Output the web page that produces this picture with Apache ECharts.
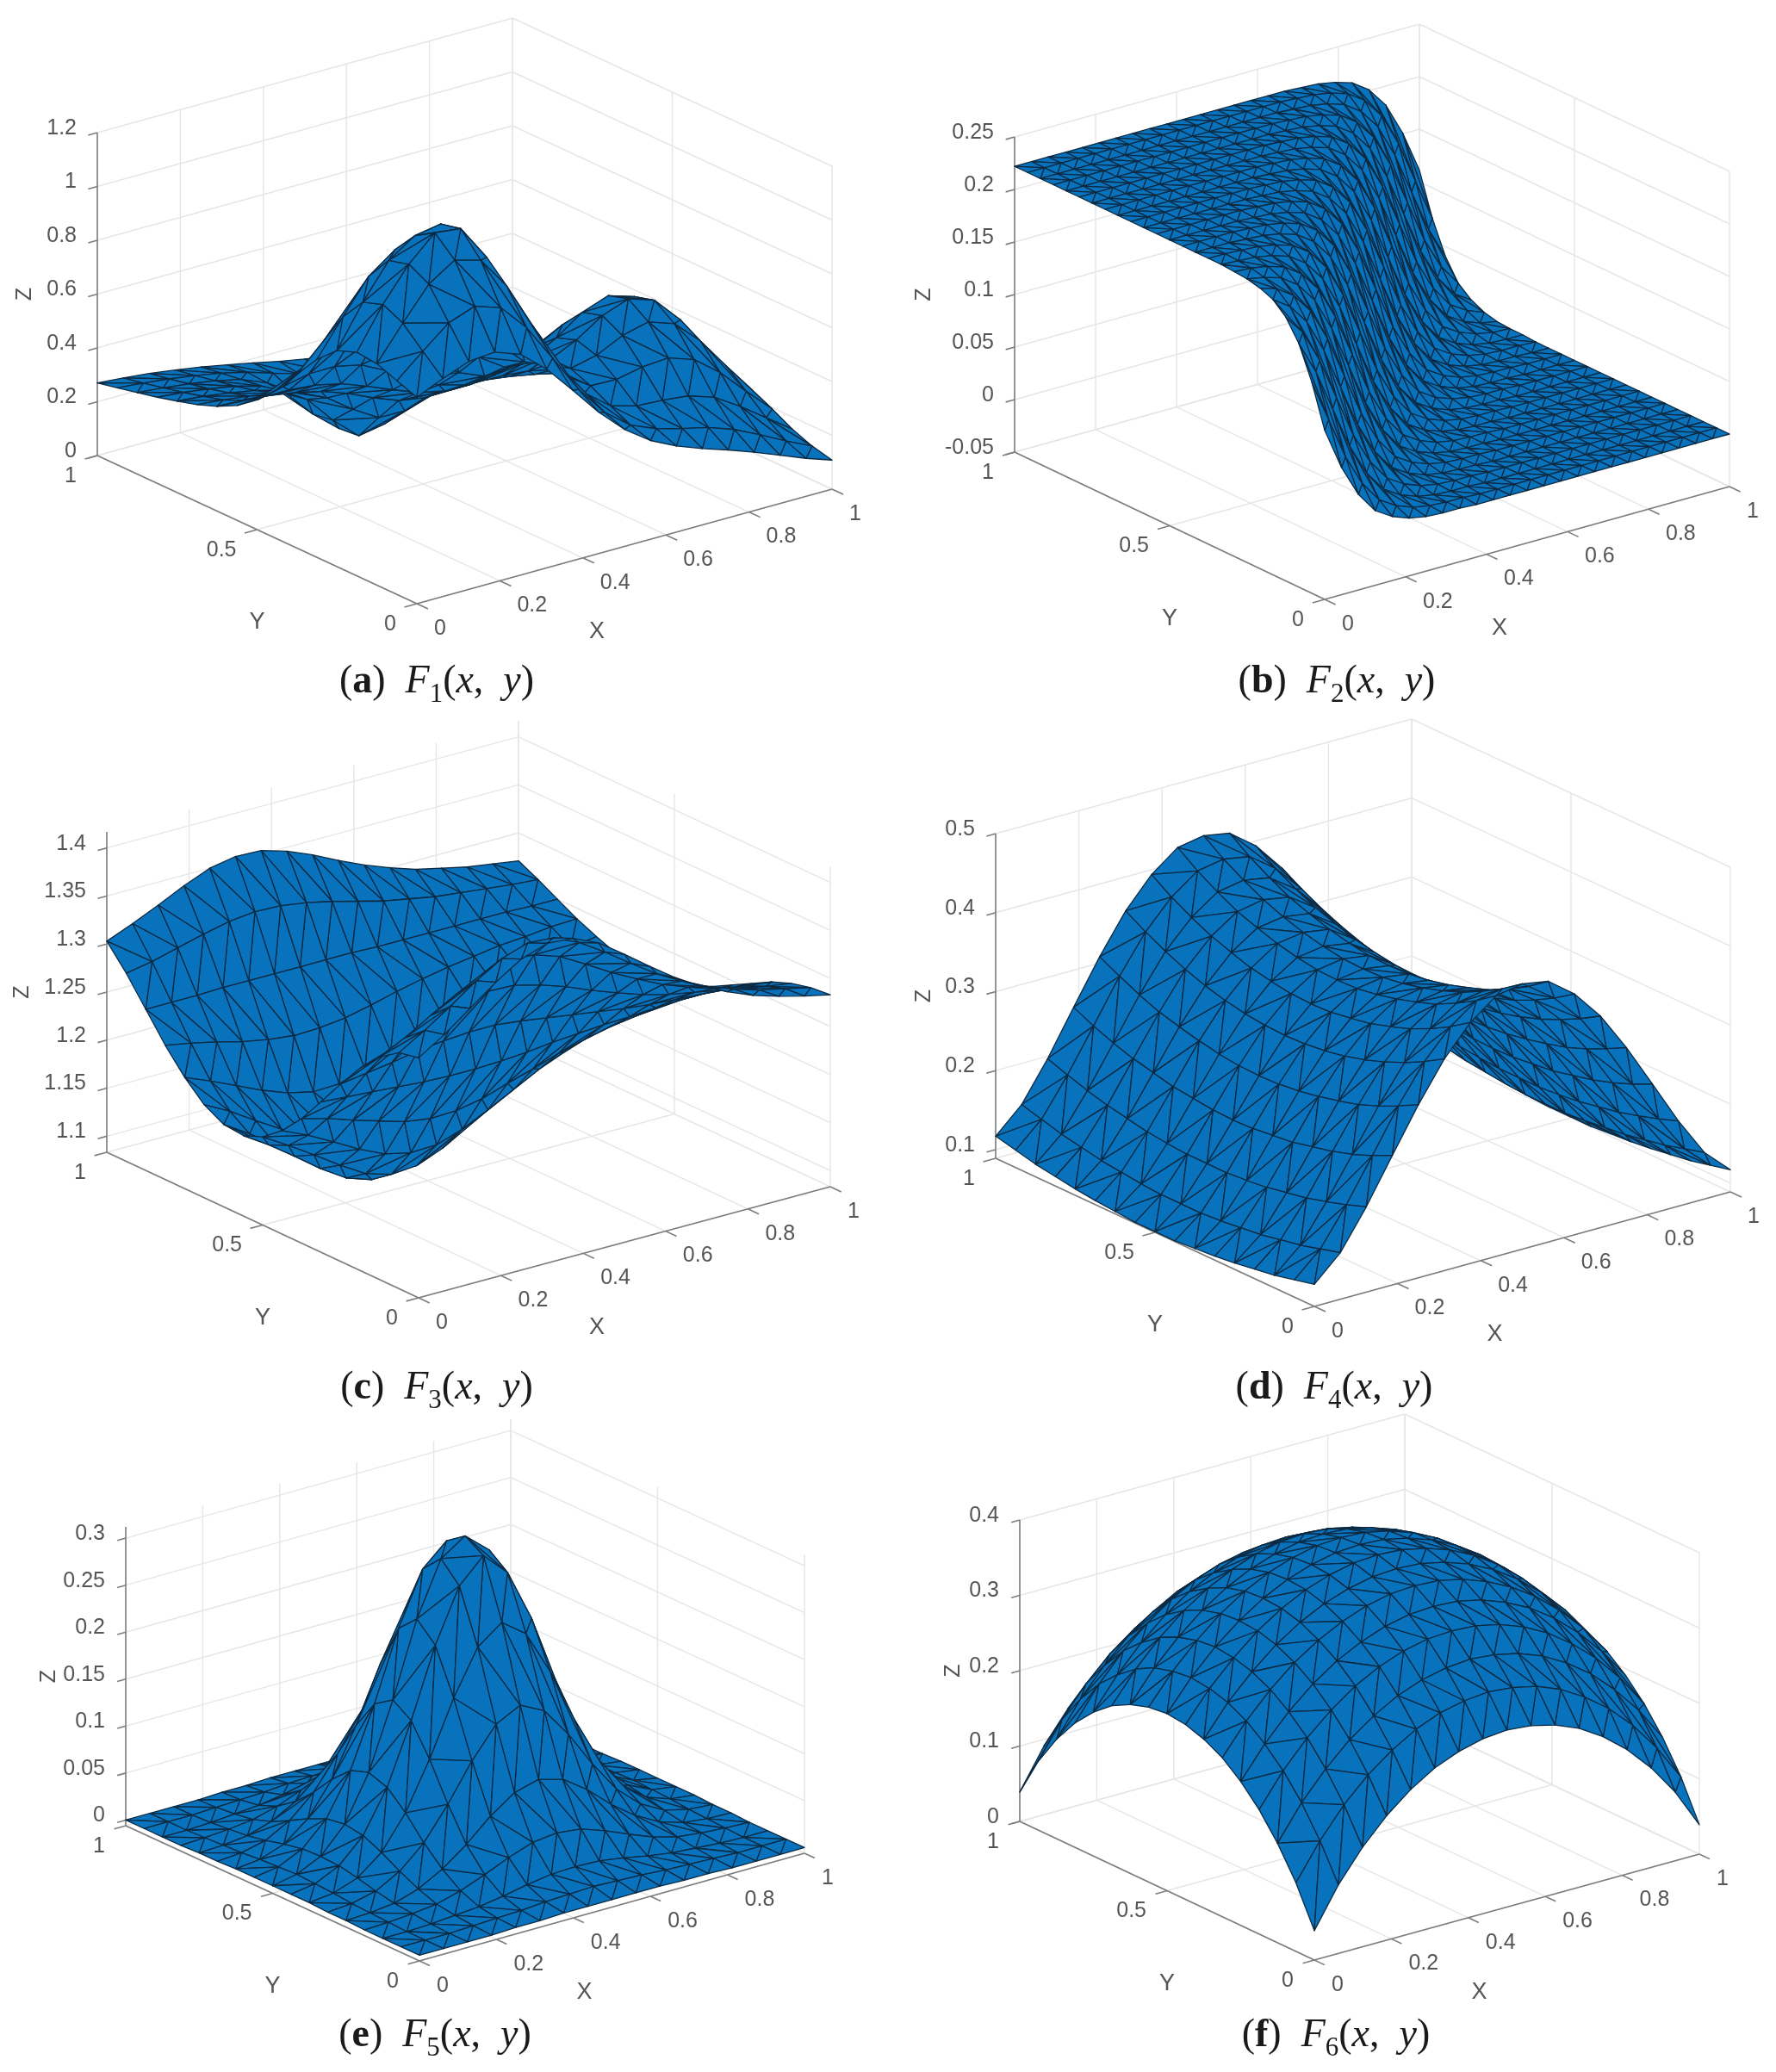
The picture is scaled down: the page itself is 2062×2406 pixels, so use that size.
<!DOCTYPE html>
<html>
<head>
<meta charset="utf-8">
<title>F1 - F6 surfaces</title>
<script src="https://cdn.jsdelivr.net/npm/echarts@6/dist/echarts.min.js"></script>
<style>
  html, body { margin: 0; padding: 0; background: #fff; }
  #chart { width: 2062px; height: 2406px; }
</style>
</head>
<body>
<div id="chart"></div>
<script>
// ========================================
// Data
// each matrix: rows run y = 0 -> 1, columns run x = 0 -> 1
// ========================================
const xTicks = [0, 0.2, 0.4, 0.6, 0.8, 1];
const yTicks = [0, 0.5, 1];

const zTicksA = [0, 0.2, 0.4, 0.6, 0.8, 1, 1.2];
const zTicksB = [-0.05, 0, 0.05, 0.1, 0.15, 0.2, 0.25];
const zTicksC = [1.1, 1.15, 1.2, 1.25, 1.3, 1.35, 1.4];
const zTicksD = [0.1, 0.2, 0.3, 0.4, 0.5];
const zTicksE = [0, 0.05, 0.1, 0.15, 0.2, 0.25, 0.3];
const zTicksF = [0, 0.1, 0.2, 0.3, 0.4];

const surfaceA = [
  [.767,.810,.847,.855,.820,.739,.634,.526,.435,.367,.320,.284,.252,.217,.179,.141,.108],
  [.794,.877,.956,.991,.959,.858,.718,.576,.464,.390,.350,.324,.301,.267,.221,.171,.126],
  [.823,.947,1.065,1.128,1.101,.979,.805,.631,.501,.427,.400,.394,.384,.352,.292,.223,.155],
  [.831,.982,1.105,1.195,1.184,1.051,.856,.665,.531,.467,.464,.484,.491,.458,.383,.287,.195],
  [.803,.956,1.085,1.150,1.167,1.035,.844,.661,.538,.497,.519,.566,.590,.557,.467,.347,.231],
  [.736,.867,.992,1.063,1.041,.925,.762,.608,.514,.497,.542,.606,.641,.610,.511,.378,.249],
  [.647,.740,.828,.874,.853,.762,.637,.524,.460,.463,.516,.584,.619,.589,.496,.367,.241],
  [.556,.610,.659,.681,.660,.593,.508,.432,.392,.401,.449,.503,.530,.504,.424,.313,.208],
  [.482,.505,.526,.527,.506,.458,.402,.352,.326,.331,.361,.395,.408,.384,.322,.240,.162],
  [.427,.432,.432,.423,.402,.366,.326,.289,.268,.266,.278,.290,.290,.268,.224,.170,.117],
  [.389,.385,.376,.361,.339,.305,.262,.225,.209,.211,.213,.211,.202,.181,.151,.116,.084],
  [.361,.352,.340,.323,.299,.254,.185,.127,.126,.155,.167,.159,.146,.128,.106,.083,.063],
  [.340,.331,.317,.300,.273,.214,.110,.025,.043,.108,.137,.131,.116,.099,.081,.065,.051],
  [.320,.311,.298,.281,.255,.199,.098,.018,.036,.097,.123,.117,.101,.085,.069,.056,.045],
  [.303,.294,.282,.267,.245,.206,.146,.095,.094,.117,.120,.108,.092,.076,.063,.051,.041],
  [.286,.277,.266,.252,.234,.211,.181,.152,.137,.130,.117,.102,.086,.071,.058,.047,.038],
  [.270,.262,.252,.238,.223,.204,.185,.164,.146,.129,.113,.096,.081,.067,.055,.045,.036]
];

const surfaceB = [
  [.111,.071,.041,.021,.011,.005,.002,.001,.001,0,0,0,0,0,0,0,0,0,0,0,0,0,0,0,0],
  [.151,.111,.071,.041,.021,.011,.005,.002,.001,.001,0,0,0,0,0,0,0,0,0,0,0,0,0,0,0],
  [.182,.151,.111,.071,.041,.021,.011,.005,.002,.001,.001,0,0,0,0,0,0,0,0,0,0,0,0,0,0],
  [.201,.182,.151,.111,.071,.041,.021,.011,.005,.002,.001,.001,0,0,0,0,0,0,0,0,0,0,0,0,0],
  [.212,.201,.182,.151,.111,.071,.041,.021,.011,.005,.002,.001,.001,0,0,0,0,0,0,0,0,0,0,0,0],
  [.217,.212,.201,.182,.151,.111,.071,.041,.021,.011,.005,.002,.001,.001,0,0,0,0,0,0,0,0,0,0,0],
  [.220,.217,.212,.201,.182,.151,.111,.071,.041,.021,.011,.005,.002,.001,.001,0,0,0,0,0,0,0,0,0,0],
  [.221,.220,.217,.212,.201,.182,.151,.111,.071,.041,.021,.011,.005,.002,.001,.001,0,0,0,0,0,0,0,0,0],
  [.222,.221,.220,.217,.212,.201,.182,.151,.111,.071,.041,.021,.011,.005,.002,.001,.001,0,0,0,0,0,0,0,0],
  [.222,.222,.221,.220,.217,.212,.201,.182,.151,.111,.071,.041,.021,.011,.005,.002,.001,.001,0,0,0,0,0,0,0],
  [.222,.222,.222,.221,.220,.217,.212,.201,.182,.151,.111,.071,.041,.021,.011,.005,.002,.001,.001,0,0,0,0,0,0],
  [.222,.222,.222,.222,.221,.220,.217,.212,.201,.182,.151,.111,.071,.041,.021,.011,.005,.002,.001,.001,0,0,0,0,0],
  [.222,.222,.222,.222,.222,.221,.220,.217,.212,.201,.182,.151,.111,.071,.041,.021,.011,.005,.002,.001,.001,0,0,0,0],
  [.222,.222,.222,.222,.222,.222,.221,.220,.217,.212,.201,.182,.151,.111,.071,.041,.021,.011,.005,.002,.001,.001,0,0,0],
  [.222,.222,.222,.222,.222,.222,.222,.221,.220,.217,.212,.201,.182,.151,.111,.071,.041,.021,.011,.005,.002,.001,.001,0,0],
  [.222,.222,.222,.222,.222,.222,.222,.222,.221,.220,.217,.212,.201,.182,.151,.111,.071,.041,.021,.011,.005,.002,.001,.001,0],
  [.222,.222,.222,.222,.222,.222,.222,.222,.222,.221,.220,.217,.212,.201,.182,.151,.111,.071,.041,.021,.011,.005,.002,.001,.001],
  [.222,.222,.222,.222,.222,.222,.222,.222,.222,.222,.221,.220,.217,.212,.201,.182,.151,.111,.071,.041,.021,.011,.005,.002,.001],
  [.222,.222,.222,.222,.222,.222,.222,.222,.222,.222,.222,.221,.220,.217,.212,.201,.182,.151,.111,.071,.041,.021,.011,.005,.002],
  [.222,.222,.222,.222,.222,.222,.222,.222,.222,.222,.222,.222,.221,.220,.217,.212,.201,.182,.151,.111,.071,.041,.021,.011,.005],
  [.222,.222,.222,.222,.222,.222,.222,.222,.222,.222,.222,.222,.222,.221,.220,.217,.212,.201,.182,.151,.111,.071,.041,.021,.011],
  [.222,.222,.222,.222,.222,.222,.222,.222,.222,.222,.222,.222,.222,.222,.221,.220,.217,.212,.201,.182,.151,.111,.071,.041,.021],
  [.222,.222,.222,.222,.222,.222,.222,.222,.222,.222,.222,.222,.222,.222,.222,.221,.220,.217,.212,.201,.182,.151,.111,.071,.041],
  [.222,.222,.222,.222,.222,.222,.222,.222,.222,.222,.222,.222,.222,.222,.222,.222,.221,.220,.217,.212,.201,.182,.151,.111,.071],
  [.222,.222,.222,.222,.222,.222,.222,.222,.222,.222,.222,.222,.222,.222,.222,.222,.222,.221,.220,.217,.212,.201,.182,.151,.111]
];

const surfaceC = [
  [1.333,1.350,1.370,1.390,1.407,1.416,1.414,1.402,1.383,1.363,1.344,1.328,1.315,1.304,1.296,1.289,1.283],
  [1.329,1.345,1.363,1.382,1.398,1.407,1.405,1.393,1.376,1.357,1.339,1.324,1.311,1.301,1.293,1.287,1.281],
  [1.315,1.328,1.344,1.359,1.372,1.380,1.378,1.369,1.354,1.338,1.324,1.311,1.301,1.292,1.286,1.280,1.276],
  [1.294,1.303,1.313,1.324,1.333,1.338,1.337,1.330,1.321,1.310,1.300,1.291,1.284,1.279,1.274,1.271,1.268],
  [1.268,1.272,1.276,1.281,1.284,1.286,1.286,1.283,1.279,1.275,1.271,1.267,1.264,1.262,1.260,1.259,1.257],
  [1.240,1.238,1.236,1.234,1.232,1.231,1.231,1.232,1.234,1.237,1.239,1.241,1.242,1.244,1.245,1.245,1.246],
  [1.213,1.206,1.197,1.189,1.181,1.177,1.178,1.183,1.192,1.200,1.209,1.216,1.222,1.226,1.230,1.233,1.235],
  [1.191,1.179,1.165,1.150,1.138,1.132,1.133,1.142,1.155,1.169,1.183,1.194,1.204,1.211,1.217,1.222,1.226],
  [1.175,1.159,1.142,1.124,1.108,1.100,1.102,1.113,1.129,1.148,1.165,1.179,1.191,1.201,1.209,1.215,1.220],
  [1.167,1.150,1.131,1.111,1.094,1.085,1.087,1.099,1.117,1.137,1.156,1.172,1.185,1.196,1.204,1.211,1.217],
  [1.169,1.152,1.134,1.114,1.097,1.089,1.090,1.102,1.120,1.140,1.158,1.174,1.187,1.197,1.205,1.212,1.218],
  [1.180,1.166,1.149,1.133,1.118,1.111,1.112,1.123,1.138,1.155,1.171,1.184,1.195,1.204,1.212,1.217,1.222],
  [1.199,1.188,1.176,1.164,1.154,1.148,1.149,1.157,1.168,1.181,1.192,1.202,1.210,1.217,1.222,1.226,1.230],
  [1.223,1.218,1.212,1.205,1.200,1.197,1.198,1.201,1.207,1.214,1.220,1.225,1.229,1.233,1.235,1.238,1.239],
  [1.251,1.251,1.251,1.252,1.252,1.252,1.252,1.252,1.252,1.251,1.251,1.251,1.251,1.251,1.251,1.250,1.250],
  [1.279,1.284,1.291,1.298,1.304,1.307,1.306,1.302,1.296,1.289,1.282,1.277,1.272,1.269,1.266,1.263,1.261],
  [1.303,1.314,1.326,1.339,1.350,1.355,1.354,1.346,1.335,1.322,1.310,1.300,1.291,1.285,1.279,1.275,1.271]
];

const surfaceD = [
  [.117,.148,.197,.253,.308,.357,.394,.419,.425,.419,.394,.357,.308,.253,.197,.148,.117],
  [.111,.141,.188,.241,.295,.342,.377,.401,.407,.401,.377,.342,.295,.241,.188,.141,.111],
  [.105,.134,.180,.231,.283,.329,.363,.386,.392,.386,.363,.329,.283,.231,.180,.134,.105],
  [.101,.129,.173,.223,.273,.318,.351,.373,.379,.373,.351,.318,.273,.223,.173,.129,.101],
  [.097,.124,.168,.217,.266,.309,.342,.364,.369,.364,.342,.309,.266,.217,.168,.124,.097],
  [.094,.121,.163,.211,.260,.302,.334,.356,.361,.356,.334,.302,.260,.211,.163,.121,.094],
  [.092,.118,.160,.208,.255,.297,.329,.350,.355,.350,.329,.297,.255,.208,.160,.118,.092],
  [.090,.116,.158,.205,.252,.294,.325,.346,.351,.346,.325,.294,.252,.205,.158,.116,.090],
  [.090,.116,.158,.204,.251,.293,.324,.345,.350,.345,.324,.293,.251,.204,.158,.116,.090],
  [.090,.116,.158,.205,.252,.294,.325,.346,.351,.346,.325,.294,.252,.205,.158,.116,.090],
  [.092,.118,.160,.208,.255,.297,.329,.350,.355,.350,.329,.297,.255,.208,.160,.118,.092],
  [.094,.121,.163,.211,.260,.302,.334,.356,.361,.356,.334,.302,.260,.211,.163,.121,.094],
  [.097,.124,.168,.217,.266,.309,.342,.364,.369,.364,.342,.309,.266,.217,.168,.124,.097],
  [.101,.129,.173,.223,.273,.318,.351,.373,.379,.373,.351,.318,.273,.223,.173,.129,.101],
  [.105,.134,.180,.231,.283,.329,.363,.386,.392,.386,.363,.329,.283,.231,.180,.134,.105],
  [.111,.141,.188,.241,.295,.342,.377,.401,.407,.401,.377,.342,.295,.241,.188,.141,.111],
  [.117,.148,.197,.253,.308,.357,.394,.419,.425,.419,.394,.357,.308,.253,.197,.148,.117]
];

const surfaceE = [
  [0,0,0,0,.001,.001,.002,.002,.002,.002,.002,.001,.001,0,0,0,0],
  [0,0,0,.001,.002,.003,.005,.006,.007,.006,.005,.003,.002,.001,0,0,0],
  [0,0,.001,.003,.005,.009,.014,.018,.019,.018,.014,.009,.005,.003,.001,0,0],
  [0,.001,.003,.006,.013,.023,.034,.043,.046,.043,.034,.023,.013,.006,.003,.001,0],
  [.001,.002,.005,.013,.027,.046,.069,.087,.094,.087,.069,.046,.027,.013,.005,.002,.001],
  [.001,.003,.009,.023,.046,.080,.119,.151,.164,.151,.119,.080,.046,.023,.009,.003,.001],
  [.002,.005,.014,.034,.069,.119,.177,.224,.243,.224,.177,.119,.069,.034,.014,.005,.002],
  [.002,.006,.018,.043,.087,.151,.224,.280,.305,.280,.224,.151,.087,.043,.018,.006,.002],
  [.002,.007,.019,.046,.094,.164,.243,.300,.317,.295,.243,.164,.094,.046,.019,.007,.002],
  [.002,.006,.018,.043,.087,.151,.224,.280,.303,.280,.224,.151,.087,.043,.018,.006,.002],
  [.002,.005,.014,.034,.069,.119,.177,.224,.243,.224,.177,.119,.069,.034,.014,.005,.002],
  [.001,.003,.009,.023,.046,.080,.119,.151,.164,.151,.119,.080,.046,.023,.009,.003,.001],
  [.001,.002,.005,.013,.027,.046,.069,.087,.094,.087,.069,.046,.027,.013,.005,.002,.001],
  [0,.001,.003,.006,.013,.023,.034,.043,.046,.043,.034,.023,.013,.006,.003,.001,0],
  [0,0,.001,.003,.005,.009,.014,.018,.019,.018,.014,.009,.005,.003,.001,0,0],
  [0,0,0,.001,.002,.003,.005,.006,.007,.006,.005,.003,.002,.001,0,0,0],
  [0,0,0,0,.001,.001,.002,.002,.002,.002,.002,.001,.001,0,0,0,0]
];

const surfaceF = [
  [.039,.091,.132,.165,.191,.211,.224,.232,.235,.232,.224,.211,.191,.165,.132,.091,.039],
  [.091,.138,.177,.208,.232,.251,.264,.271,.274,.271,.264,.251,.232,.208,.177,.138,.091],
  [.132,.177,.213,.243,.266,.284,.296,.303,.306,.303,.296,.284,.266,.243,.213,.177,.132],
  [.165,.208,.243,.271,.294,.311,.323,.330,.332,.330,.323,.311,.294,.271,.243,.208,.165],
  [.191,.232,.266,.294,.316,.332,.344,.351,.353,.351,.344,.332,.316,.294,.266,.232,.191],
  [.211,.251,.284,.311,.332,.348,.360,.367,.369,.367,.360,.348,.332,.311,.284,.251,.211],
  [.224,.264,.296,.323,.344,.360,.371,.378,.380,.378,.371,.360,.344,.323,.296,.264,.224],
  [.232,.271,.303,.330,.351,.367,.378,.385,.387,.385,.378,.367,.351,.330,.303,.271,.232],
  [.235,.274,.306,.332,.353,.369,.380,.387,.389,.387,.380,.369,.353,.332,.306,.274,.235],
  [.232,.271,.303,.330,.351,.367,.378,.385,.387,.385,.378,.367,.351,.330,.303,.271,.232],
  [.224,.264,.296,.323,.344,.360,.371,.378,.380,.378,.371,.360,.344,.323,.296,.264,.224],
  [.211,.251,.284,.311,.332,.348,.360,.367,.369,.367,.360,.348,.332,.311,.284,.251,.211],
  [.191,.232,.266,.294,.316,.332,.344,.351,.353,.351,.344,.332,.316,.294,.266,.232,.191],
  [.165,.208,.243,.271,.294,.311,.323,.330,.332,.330,.323,.311,.294,.271,.243,.208,.165],
  [.132,.177,.213,.243,.266,.284,.296,.303,.306,.303,.296,.284,.266,.243,.213,.177,.132],
  [.091,.138,.177,.208,.232,.251,.264,.271,.274,.271,.264,.251,.232,.208,.177,.138,.091],
  [.039,.091,.132,.165,.191,.211,.224,.232,.235,.232,.224,.211,.191,.165,.132,.091,.039]
];

// ========================================
// Panel layout: floor corners in page pixels, wall height, z range
// L = (x0, y1), F = (x0, y0), R = (x1, y0)
// ========================================
const panels = [
  { L: [113, 529], F: [484, 701], R: [966, 568], h: 375, zMin: 0, zMax: 1.2, z: surfaceA, zTicks: zTicksA, zGap: 84,
    letter: 'a', index: '1', capX: 507, capY: 792 },
  { L: [1178, 525], F: [1538, 696], R: [2008, 565], h: 366, zMin: -0.05, zMax: 0.25, z: surfaceB, zTicks: zTicksB, zGap: 105,
    letter: 'b', index: '2', capX: 1552, capY: 792 },
  { L: [124, 1338], F: [486, 1507], R: [964, 1378], h: 372, zMin: 1.0833, zMax: 1.4167, z: surfaceC, zTicks: zTicksC, zGap: 98,
    letter: 'c', index: '3', capX: 507, capY: 1612 },
  { L: [1156, 1345], F: [1526, 1517], R: [2009, 1384], h: 377, zMin: 0.089, zMax: 0.5, z: surfaceD, zTicks: zTicksD, zGap: 83,
    letter: 'd', index: '4', capX: 1549, capY: 1612 },
  { L: [146, 2120], F: [487, 2277], R: [934, 2152], h: 347, zMin: -0.006, zMax: 0.312, z: surfaceE, zTicks: zTicksE, zGap: 89,
    letter: 'e', index: '5', capX: 505, capY: 2364 },
  { L: [1184, 2115], F: [1526, 2276], R: [1973, 2153], h: 350, zMin: 0, zMax: 0.4, z: surfaceF, zTicks: zTicksF, zGap: 77,
    letter: 'f', index: '6', capX: 1551, capY: 2364 }
];

const SURFACE_BLUE = '#0872BC';
const MESH_DARK = '#0d2a42';
const GRID_GRAY = '#e6e6e6';
const AXIS_GRAY = '#7d7d7d';
const LABEL_GRAY = '#555555';
const LABEL_FONT = '"Liberation Sans"';

// depth weights of the view (az about -37.5, el about 26)
const DEPTH_X = 338, DEPTH_Y = 437, DEPTH_Z = 185;

const grids = [], xAxes = [], yAxes = [], series = [], titles = [];

panels.forEach(function (p, idx) {
  const ux = p.R[0] - p.F[0], uy = p.L[0] - p.F[0];
  const vx = p.F[1] - p.R[1], vy = p.F[1] - p.L[1];
  const top = vx + vy + p.h;
  const zN = function (z) { return (z - p.zMin) / (p.zMax - p.zMin); };

  grids.push({ left: p.L[0], width: ux - uy, top: p.F[1] - top, height: top, show: false });
  xAxes.push({ type: 'value', gridIndex: idx, min: uy, max: ux, show: false });
  yAxes.push({ type: 'value', gridIndex: idx, min: 0, max: top, show: false });

  // project a data point to the panel's value axes, then to pixels
  const toPixel = function (api, x, y, z) {
    return api.coord([x * ux + y * uy, x * vx + y * vy + zN(z) * p.h]);
  };

  // ---- walls and floor grid ----
  const gridSegs = [];
  p.zTicks.forEach(function (z) {
    gridSegs.push([0, 1, z, 1, 1, z], [1, 1, z, 1, 0, z]);
  });
  xTicks.forEach(function (x) {
    gridSegs.push([x, 1, p.zMin, x, 1, p.zMax], [x, 0, p.zMin, x, 1, p.zMin]);
  });
  yTicks.forEach(function (y) {
    gridSegs.push([1, y, p.zMin, 1, y, p.zMax], [0, y, p.zMin, 1, y, p.zMin]);
  });

  // ---- axis lines and tick marks ----
  const axisSegs = [
    [0, 1, p.zMin, 0, 1, p.zMax],
    [0, 0, p.zMin, 1, 0, p.zMin],
    [0, 0, p.zMin, 0, 1, p.zMin]
  ];
  xTicks.forEach(function (x) { axisSegs.push([x, 0, p.zMin, x, -0.035, p.zMin]); });
  yTicks.forEach(function (y) { axisSegs.push([0, y, p.zMin, -0.03, y, p.zMin]); });
  p.zTicks.forEach(function (z) { axisSegs.push([0, 1, z, -0.022, 1, z]); });

  const segmentSeries = function (segs, color, width) {
    return {
      type: 'custom',
      xAxisIndex: idx,
      yAxisIndex: idx,
      silent: true,
      animation: false,
      clip: false,
      data: segs,
      renderItem: function (params, api) {
        const a = toPixel(api, api.value(0), api.value(1), api.value(2));
        const b = toPixel(api, api.value(3), api.value(4), api.value(5));
        return {
          type: 'line',
          shape: { x1: a[0], y1: a[1], x2: b[0], y2: b[1] },
          style: { stroke: color, lineWidth: width, fill: null }
        };
      }
    };
  };
  series.push(segmentSeries(gridSegs, GRID_GRAY, 1.4));
  series.push(segmentSeries(axisSegs, AXIS_GRAY, 1.6));

  // ---- surface triangles, painted back to front ----
  const rows = p.z.length - 1, cols = p.z[0].length - 1;
  const tris = [];
  const node = function (i, j) { return [i / cols, j / rows, p.z[j][i]]; };
  for (let j = 0; j < rows; j++) {
    for (let i = 0; i < cols; i++) {
      const a = node(i, j), b = node(i + 1, j), c = node(i + 1, j + 1), d = node(i, j + 1);
      if (j % 2 === 0) {
        tris.push(a.concat(b, c), a.concat(c, d));
      } else {
        tris.push(a.concat(b, d), b.concat(c, d));
      }
    }
  }
  const depth = function (t) {
    return DEPTH_X * (t[0] + t[3] + t[6]) + DEPTH_Y * (t[1] + t[4] + t[7])
      - DEPTH_Z * (zN(t[2]) + zN(t[5]) + zN(t[8]));
  };
  tris.sort(function (s, t) { return depth(t) - depth(s); });

  series.push({
    type: 'custom',
    xAxisIndex: idx,
    yAxisIndex: idx,
    silent: true,
    animation: false,
    clip: false,
    data: tris,
    renderItem: function (params, api) {
      const pts = [0, 3, 6].map(function (k) {
        return toPixel(api, api.value(k), api.value(k + 1), api.value(k + 2));
      });
      return {
        type: 'polygon',
        shape: { points: pts },
        style: { fill: SURFACE_BLUE, stroke: MESH_DARK, lineWidth: 1.3, lineJoin: 'round' }
      };
    }
  });

  // ---- tick labels and axis names ----
  const labels = [];
  xTicks.forEach(function (x) {
    labels.push({ text: String(x), at: [x, 0, p.zMin], dx: 20, dy: 29, align: 'left', size: 25 });
  });
  yTicks.forEach(function (y) {
    labels.push({ text: String(y), at: [0, y, p.zMin], dx: -24, dy: 24, align: 'right', size: 25 });
  });
  p.zTicks.forEach(function (z) {
    labels.push({ text: String(z), at: [0, 1, z], dx: -24, dy: -5, align: 'right', size: 25 });
  });
  labels.push({ text: 'X', at: [0.5, 0, p.zMin], dx: -32, dy: 99, align: 'center', size: 27 });
  labels.push({ text: 'Y', at: [0, 0.5, p.zMin], dx: 0, dy: 108, align: 'center', size: 27 });
  labels.push({ text: 'Z', at: [0, 1, (p.zMin + p.zMax) / 2], dx: -p.zGap, dy: 0, align: 'center', size: 25, rotate: Math.PI / 2 });

  series.push({
    type: 'custom',
    xAxisIndex: idx,
    yAxisIndex: idx,
    silent: true,
    animation: false,
    clip: false,
    data: labels.map(function (l) { return l.at; }),
    renderItem: function (params, api) {
      const l = labels[params.dataIndex];
      const pos = toPixel(api, api.value(0), api.value(1), api.value(2));
      return {
        type: 'text',
        x: pos[0] + l.dx,
        y: pos[1] + l.dy,
        rotation: l.rotate || 0,
        style: {
          text: l.text,
          x: 0,
          y: 0,
          fill: LABEL_GRAY,
          font: l.size + 'px ' + LABEL_FONT,
          align: l.align,
          verticalAlign: 'middle'
        }
      };
    }
  });

  // ---- caption ----
  titles.push({
    text: '{n|(}{b|' + p.letter + '}{n|)  }{i|F}{s|' + p.index + '}{n|(}{i|x}{n|,  }{i|y}{n|)}',
    left: p.capX,
    top: p.capY - 30,
    padding: 0,
    textAlign: 'center',
    textStyle: {
      fontWeight: 'normal',
      rich: {
        n: { fontFamily: 'Liberation Serif', fontSize: 46, fontWeight: 'normal', color: '#1a1a1a', lineHeight: 60 },
        b: { fontFamily: 'Liberation Serif', fontSize: 46, fontWeight: 'bold', color: '#1a1a1a', lineHeight: 60 },
        i: { fontFamily: 'Liberation Serif', fontSize: 46, fontWeight: 'normal', fontStyle: 'italic', color: '#1a1a1a', lineHeight: 60 },
        s: { fontFamily: 'Liberation Serif', fontSize: 31, fontWeight: 'normal', color: '#1a1a1a', lineHeight: 60, verticalAlign: 'bottom' }
      }
    }
  });
});

const myChart = echarts.init(document.getElementById('chart'), null, { renderer: 'canvas' });
myChart.setOption({
  backgroundColor: '#ffffff',
  animation: false,
  title: titles,
  grid: grids,
  xAxis: xAxes,
  yAxis: yAxes,
  series: series
});
</script>
</body>
</html>
